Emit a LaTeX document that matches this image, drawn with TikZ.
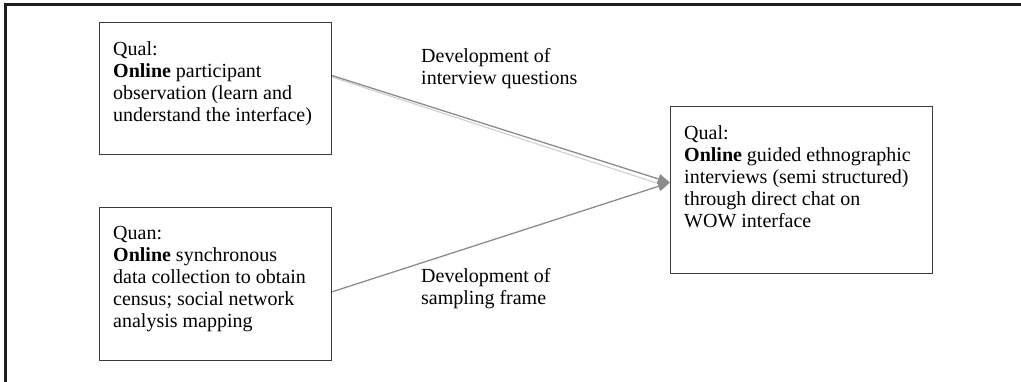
\documentclass[tikz,border=0pt]{standalone}
\usepackage{fontspec}
\setmainfont{Liberation Serif}
\usetikzlibrary{arrows.meta,positioning}
\definecolor{framegray}{RGB}{30,30,30}
\definecolor{boxgray}{RGB}{60,60,60}
\definecolor{linkgray}{RGB}{140,140,140}
\definecolor{palegray}{RGB}{210,210,210}

\begin{document}
\begin{tikzpicture}[x=1pt, y=-1pt,
  box/.style={draw=boxgray, line width=1.2pt, rectangle, minimum width=232pt, inner sep=0pt},
  txt/.style={anchor=north west, inner sep=0pt, align=left, font=\fontsize{20}{22}\selectfont},
  link/.style={draw=linkgray, line width=1.3pt, -{Triangle[length=12pt,width=10pt]}}]
  \useasboundingbox (0,0) rectangle (1021,382);
  \draw[framegray, line width=3pt] (1021,5) -- (5,5) -- (5,382);

  % boxes
  \node[box, minimum height=132pt, anchor=north west] (qualobs) at (99,22) {};
  \node[box, minimum height=153pt, below=52pt of qualobs] (quancensus) {};
  \node[box, minimum width=262pt, minimum height=167pt, anchor=north west] (qualint) at (670,106) {};

  % box texts
  \node[txt] (qualobstext) at ([shift={(14,19.3)}]qualobs.north west)
    {Qual:\\\textbf{Online} participant\\observation (learn and\\understand the interface)};
  \node[txt] (quancensustext) at ([shift={(14,19.3)}]quancensus.north west)
    {Quan:\\\textbf{Online} synchronous\\data collection to obtain\\census; social network\\analysis mapping};
  \node[txt] (qualinttext) at ([shift={(14,19.3)}]qualint.north west)
    {Qual:\\\textbf{Online} guided ethnographic\\interviews (semi structured)\\through direct chat on\\WOW interface};

  % link labels
  \node[txt] (devquestions) at (421,48.3) {Development of\\interview questions};
  \node[txt] (devsampling) at (421,268.3) {Development of\\sampling frame};

  % links
  \draw[palegray, line width=1.2pt] ([yshift=11.5pt]qualobs.east) -- ([yshift=6pt,xshift=-10pt]qualint.west);
  \draw[link] ([yshift=13pt]qualobs.east) -- ([yshift=7.5pt]qualint.west);
  \draw[link] ([yshift=-7.5pt]quancensus.east) -- ([yshift=7.5pt]qualint.west);
\end{tikzpicture}
\end{document}
